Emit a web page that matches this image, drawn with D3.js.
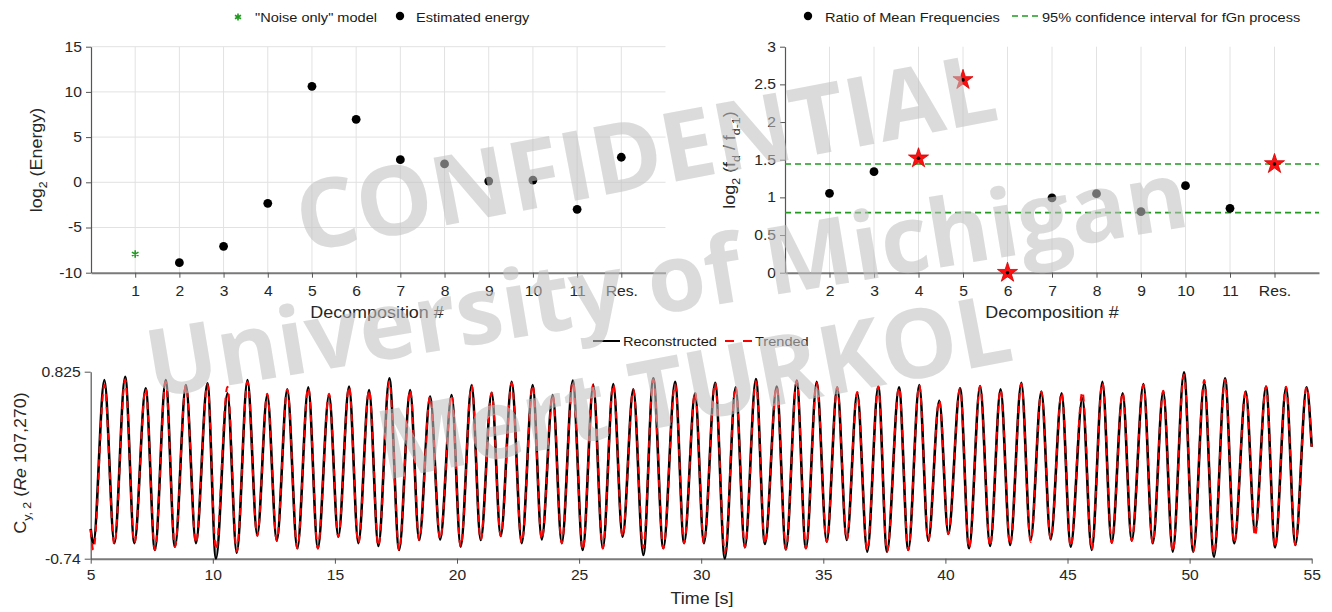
<!DOCTYPE html>
<meta charset="utf-8">
<style>
body { margin: 0; background: #fff; }
svg { font-family: "Liberation Sans", Arial, sans-serif; }
.axis text { font-size: 14px; fill: #262626; }
.grid line { stroke: #e2e2e2; stroke-width: 1; }
.title { font-size: 16px; fill: #262626; }
.leg { font-size: 13px; fill: #1a1a1a; }
</style>
<svg width="1332" height="612"></svg>
<script src="https://d3js.org/d3.v7.min.js"></script>
<script>

// ---- data ----
var decompLabels = ["1", "2", "3", "4", "5", "6", "7", "8", "9", "10", "11", "Res."];

// top left: log2(energy) per decomposition
var noiseX = [1];
var noiseVals = [-7.93];
var energyX = [2, 3, 4, 5, 6, 7, 8, 9, 10, 11, 12];
var energyVals = [-8.89, -7.08, -2.33, 10.62, 6.97, 2.5, 2.03, 0.14, 0.25, -2.99, 2.77];

// top right: log2 ratio of mean frequencies
var ratioX = [2, 3, 4, 5, 6, 7, 8, 9, 10, 11, 12];
var ratioVals = [1.054, 1.341, 1.519, 2.559, 0.0, 0.992, 1.049, 0.81, 1.155, 0.855, 1.443];
var flaggedX = [4, 5, 6, 12];
var ciBounds = [0.797, 1.443];

// bottom: extrema of the signal (time, value)
var sigTime = [5.00, 5.11, 5.56, 5.97, 6.41, 6.79, 7.25, 7.63, 8.07, 8.45, 8.90, 9.31, 9.78, 10.13, 10.60, 10.98,
  11.42, 11.82, 12.23, 12.62, 13.05, 13.46, 13.91, 14.30, 14.76, 15.14, 15.58, 15.96, 16.40, 16.78, 17.23, 17.63,
  18.08, 18.45, 18.90, 19.31,
  19.78, 20.15, 20.60, 20.97, 21.42, 21.79, 22.24, 22.65, 23.10, 23.47, 23.92, 24.29, 24.74, 25.15, 25.58, 25.97,
  26.40, 26.78, 27.22, 27.63, 28.04, 28.45, 28.93, 29.30, 29.75, 30.11, 30.57, 30.97, 31.41, 31.79, 32.24, 32.61,
  33.09, 33.47, 33.91, 34.29, 34.73, 35.14, 35.57, 35.96, 36.39, 36.80, 37.25, 37.61,
  38.10, 38.48, 38.93, 39.30, 39.75, 40.12, 40.60, 40.97, 41.42, 41.83, 42.26, 42.65, 43.11, 43.49, 43.93, 44.31,
  44.76, 45.13, 45.61, 45.99, 46.43, 46.81, 47.26, 47.63, 48.11, 48.49, 48.92, 49.31, 49.77, 50.15, 50.60, 51.00,
  51.45, 51.83, 52.30, 52.68, 53.13, 53.50, 53.95, 54.33, 54.79, 55.00];

var reconVals = [-0.49, -0.61, 0.755, -0.61, 0.783, -0.61, 0.686, -0.667, 0.755, -0.64, 0.713, -0.61, 0.727, -0.737, 0.644, -0.69,
  0.755, -0.542, 0.63, -0.589, 0.677, -0.653, 0.694, -0.653, 0.63, -0.556, 0.70, -0.61, 0.672, -0.634, 0.769, -0.667,
  0.672, -0.584, 0.616, -0.578,
  0.63, -0.64, 0.713, -0.584, 0.649, -0.55, 0.741, -0.61, 0.713, -0.578, 0.63, -0.61, 0.75, -0.667, 0.713, -0.653,
  0.722, -0.556, 0.677, -0.709, 0.769, -0.653, 0.741, -0.61, 0.644, -0.61, 0.733, -0.737, 0.694, -0.645, 0.764, -0.617,
  0.70, -0.662, 0.75, -0.653, 0.741, -0.598, 0.694, -0.584, 0.649, -0.681, 0.70, -0.681,
  0.694, -0.667, 0.713, -0.589, 0.582, -0.533, 0.686, -0.653, 0.705, -0.634, 0.677, -0.625, 0.733, -0.584, 0.658, -0.578,
  0.644, -0.64, 0.602, -0.667, 0.741, -0.606, 0.644, -0.589, 0.722, -0.611, 0.658, -0.681, 0.819, -0.681, 0.727, -0.723,
  0.769, -0.611, 0.658, -0.514, 0.70, -0.645, 0.694, -0.625, 0.694, 0.197];

var trendVals = [-0.50, -0.667, 0.713, -0.62, 0.76, -0.61, 0.686, -0.667, 0.74, -0.64, 0.713, -0.61, 0.72, -0.667, 0.70, -0.68,
  0.74, -0.55, 0.64, -0.589, 0.677, -0.653, 0.694, -0.653, 0.64, -0.556, 0.70, -0.61, 0.672, -0.634, 0.745, -0.667,
  0.672, -0.584, 0.62, -0.578,
  0.63, -0.64, 0.713, -0.584, 0.649, -0.55, 0.73, -0.61, 0.713, -0.578, 0.63, -0.61, 0.74, -0.667, 0.72, -0.653,
  0.722, -0.556, 0.677, -0.65, 0.76, -0.653, 0.72, -0.61, 0.655, -0.61, 0.733, -0.69, 0.70, -0.645, 0.745, -0.617,
  0.70, -0.662, 0.745, -0.653, 0.73, -0.598, 0.694, -0.584, 0.655, -0.67, 0.70, -0.681,
  0.694, -0.667, 0.713, -0.589, 0.59, -0.533, 0.686, -0.653, 0.705, -0.634, 0.677, -0.625, 0.725, -0.60, 0.658, -0.578,
  0.65, -0.64, 0.658, -0.667, 0.735, -0.606, 0.65, -0.589, 0.715, -0.611, 0.665, -0.681, 0.80, -0.681, 0.755, -0.70,
  0.76, -0.611, 0.665, -0.55, 0.70, -0.645, 0.70, -0.625, 0.70, 0.197];

var energyTicks = [-10, -5, 0, 5, 10, 15];
var ratioTicks = [0, 0.5, 1, 1.5, 2, 2.5, 3];
var timeTicks = [5, 10, 15, 20, 25, 30, 35, 40, 45, 50, 55];
var sigTicks = [-0.74, 0.825];

var svg = d3.select("svg");
var green = "#1f9a1f";

function styleAxis(g, thick) {
  g.select(".domain").attr("stroke", thick ? "#7a7a7a" : "#555").attr("stroke-width", thick ? 2 : 1.2);
  g.selectAll(".tick line").attr("stroke", "#555");
}

// ================= top left =================
var xL = d3.scaleLinear().domain([0, 13]).range([91, 665.5]);
var yL = d3.scaleLinear().domain([-10, 15]).range([272.7, 46.7]);

var gl = svg.append("g");
gl.append("g").attr("class", "grid")
  .selectAll("line.v").data(d3.range(1, 13)).enter().append("line")
    .attr("x1", xL).attr("x2", xL).attr("y1", yL(15)).attr("y2", yL(-10));
gl.append("g").attr("class", "grid")
  .selectAll("line.h").data(energyTicks.slice(1)).enter().append("line")
    .attr("x1", xL(0)).attr("x2", xL(13)).attr("y1", yL).attr("y2", yL);

gl.append("g").attr("class", "axis")
  .attr("transform", "translate(0," + yL(-10) + ")")
  .call(d3.axisBottom(xL).tickValues(d3.range(1, 13)).tickSize(5).tickPadding(8).tickSizeOuter(0)
    .tickFormat(function(d) { return decompLabels[d - 1]; }))
  .call(styleAxis, true);
gl.append("g").attr("class", "axis")
  .attr("transform", "translate(" + xL(0) + ",0)")
  .call(d3.axisLeft(yL).tickValues(energyTicks).tickSize(5).tickPadding(4).tickSizeOuter(0).tickFormat(String))
  .call(styleAxis, false);

gl.selectAll("circle.en").data(energyX).enter().append("circle")
  .attr("cx", xL).attr("cy", function(d, i) { return yL(energyVals[i]); })
  .attr("r", 4.4).attr("fill", "#000");
gl.selectAll("path.noise").data(noiseX).enter().append("path")
  .attr("d", d3.symbol(d3.symbolAsterisk, 40))
  .attr("transform", function(d, i) { return "translate(" + xL(d) + "," + yL(noiseVals[i]) + ")"; })
  .attr("stroke", green).attr("stroke-width", 1.6).attr("fill", "none");

gl.append("text").attr("class", "title").attr("text-anchor", "middle")
  .attr("x", 377).attr("y", 318).text("Decomposition #");
var tl = gl.append("text").attr("class", "title").attr("text-anchor", "middle")
  .attr("transform", "translate(42,160) rotate(-90)");
tl.append("tspan").text("log");
tl.append("tspan").attr("font-size", 11).attr("dy", 5).text("2");
tl.append("tspan").attr("dy", -5).text(" (Energy)");

// legend
gl.append("path").attr("d", d3.symbol(d3.symbolAsterisk, 34))
  .attr("transform", "translate(238,17)").attr("stroke", green).attr("stroke-width", 1.6);
gl.append("text").attr("class", "leg").attr("x", 255).attr("y", 21.5).text("\"Noise only\" model");
gl.append("circle").attr("cx", 400).attr("cy", 16).attr("r", 4.2).attr("fill", "#000");
gl.append("text").attr("class", "leg").attr("x", 416).attr("y", 21.5).text("Estimated energy");

// ================= top right =================
var xR = d3.scaleLinear().domain([1, 13]).range([785, 1319]);
var yR = d3.scaleLinear().domain([0, 3]).range([272.7, 46.7]);

var gr = svg.append("g");
gr.append("g").attr("class", "grid")
  .selectAll("line").data(d3.range(2, 13)).enter().append("line")
    .attr("x1", xR).attr("x2", xR).attr("y1", yR(3)).attr("y2", yR(0));

gr.append("g").attr("class", "axis")
  .attr("transform", "translate(0," + yR(0) + ")")
  .call(d3.axisBottom(xR).tickValues(d3.range(2, 13)).tickSize(5).tickPadding(8).tickSizeOuter(0)
    .tickFormat(function(d) { return decompLabels[d - 1]; }))
  .call(styleAxis, true);
gr.append("g").attr("class", "axis")
  .attr("transform", "translate(" + xR(1) + ",0)")
  .call(d3.axisLeft(yR).tickValues(ratioTicks).tickSize(5).tickPadding(4).tickSizeOuter(0).tickFormat(String))
  .call(styleAxis, false);

gr.selectAll("line.ci").data(ciBounds).enter().append("line")
  .attr("x1", xR(1)).attr("x2", xR(13)).attr("y1", yR).attr("y2", yR)
  .attr("stroke", green).attr("stroke-width", 1.6).attr("stroke-dasharray", "6,4");

gr.selectAll("circle.rt").data(ratioX.filter(function(d) { return flaggedX.indexOf(d) < 0; })).enter().append("circle")
  .attr("cx", xR).attr("cy", function(d) { return yR(ratioVals[ratioX.indexOf(d)]); })
  .attr("r", 4.4).attr("fill", "#000");
var stars = gr.selectAll("g.star").data(flaggedX).enter().append("g")
  .attr("transform", function(d) { return "translate(" + xR(d) + "," + yR(ratioVals[ratioX.indexOf(d)]) + ")"; });
stars.append("path").attr("d", d3.symbol(d3.symbolStar, 125))
  .attr("fill", "#ff1010").attr("stroke", "#d40000").attr("stroke-width", 0.8);
stars.append("circle").attr("r", 1.8).attr("fill", "#000");

gr.append("text").attr("class", "title").attr("text-anchor", "middle")
  .attr("x", 1052).attr("y", 318).text("Decomposition #");
var tr = gr.append("text").attr("class", "title").attr("text-anchor", "middle")
  .attr("transform", "translate(735,160) rotate(-90)");
tr.append("tspan").text("log");
tr.append("tspan").attr("font-size", 11).attr("dy", 5).text("2");
tr.append("tspan").attr("dy", -5).text(" (f");
tr.append("tspan").attr("font-size", 11).attr("dy", 5).text("d");
tr.append("tspan").attr("dy", -5).text(" / f");
tr.append("tspan").attr("font-size", 11).attr("dy", 5).text("d-1");
tr.append("tspan").attr("dy", -5).text(")");

gr.append("circle").attr("cx", 808).attr("cy", 16).attr("r", 4.2).attr("fill", "#000");
gr.append("text").attr("class", "leg").attr("x", 825).attr("y", 21.5).text("Ratio of Mean Frequencies");
gr.append("line").attr("x1", 1012).attr("x2", 1041).attr("y1", 16).attr("y2", 16)
  .attr("stroke", green).attr("stroke-width", 1.6).attr("stroke-dasharray", "6,4");
gr.append("text").attr("class", "leg").attr("x", 1042).attr("y", 21.5).text("95% confidence interval for fGn process");

// ================= bottom =================
var xB = d3.scaleLinear().domain([5, 55]).range([90.7, 1311.7]);
var yB = d3.scaleLinear().domain([-0.74, 0.825]).range([558.7, 371.7]);

var gb = svg.append("g");
gb.append("g").attr("class", "axis")
  .attr("transform", "translate(0," + yB(-0.74) + ")")
  .call(d3.axisBottom(xB).tickValues(timeTicks).tickSize(5).tickPadding(6).tickSizeOuter(0).tickFormat(String))
  .call(styleAxis, true);
gb.append("g").attr("class", "axis")
  .attr("transform", "translate(" + xB(5) + ",0)")
  .call(d3.axisLeft(yB).tickValues(sigTicks).tickSize(6).tickPadding(4).tickSizeOuter(0).tickFormat(String))
  .call(styleAxis, false);

var line = d3.line().curve(d3.curveMonotoneX)
  .x(function(d, i) { return xB(sigTime[i]); })
  .y(function(d) { return yB(d); });

gb.append("path").datum(reconVals).attr("d", line)
  .attr("fill", "none").attr("stroke", "#000").attr("stroke-width", 2.6).attr("stroke-linejoin", "round");
gb.append("path").datum(trendVals).attr("d", line)
  .attr("fill", "none").attr("stroke", "#ff0000").attr("stroke-width", 2).attr("stroke-dasharray", "7,6");

gb.append("text").attr("class", "title").attr("text-anchor", "middle")
  .attr("x", 702).attr("y", 604).text("Time [s]");
var tb = gb.append("text").attr("class", "title").attr("text-anchor", "middle")
  .attr("transform", "translate(26,463) rotate(-90)");
tb.append("tspan").text("C");
tb.append("tspan").attr("font-size", 11).attr("dy", 5).text("y, 2");
tb.append("tspan").attr("dy", -5).text(" (");
tb.append("tspan").attr("font-style", "italic").text("Re");
tb.append("tspan").text(" 107,270)");

gb.append("line").attr("x1", 593).attr("x2", 620).attr("y1", 341).attr("y2", 341)
  .attr("stroke", "#000").attr("stroke-width", 2);
gb.append("text").attr("class", "leg").attr("x", 623).attr("y", 346).text("Reconstructed");
gb.append("line").attr("x1", 725).attr("x2", 753).attr("y1", 341).attr("y2", 341)
  .attr("stroke", "#ff0000").attr("stroke-width", 2).attr("stroke-dasharray", "9,9");
gb.append("text").attr("class", "leg").attr("x", 755).attr("y", 346).text("Trended");

// the figure's text is a bit wider than Arial at the same height, so widen it a little
svg.selectAll("text").each(function() {
  var w = this.getComputedTextLength();
  d3.select(this).attr("textLength", (w * 1.12).toFixed(1)).attr("lengthAdjust", "spacingAndGlyphs");
});

// ================= watermark =================
var wm = svg.append("g").attr("font-family", "'Open Sans', 'DejaVu Sans', sans-serif")
  .attr("font-weight", 700).attr("text-anchor", "middle")
  .attr("fill", "rgb(193,193,193)").attr("fill-opacity", 0.58);
wm.append("text").attr("font-size", 96)
  .attr("transform", "translate(652,186) rotate(-10.8)").text("CONFIDENTIAL");
wm.append("text").attr("font-size", 94)
  .attr("transform", "translate(672,312) rotate(-9.4)").text("University of Michigan");
wm.append("text").attr("font-size", 96)
  .attr("transform", "translate(700,420) rotate(-10.8)").text("Mert TURKOL");

</script>
